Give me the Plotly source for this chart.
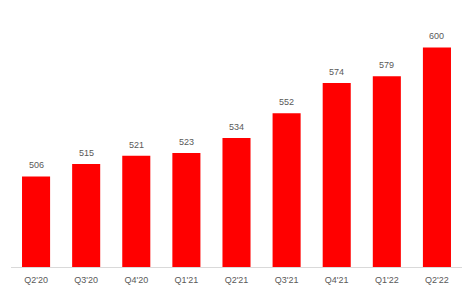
import plotly.graph_objects as go

quarters = ["Q2'20", "Q3'20", "Q4'20", "Q1'21", "Q2'21", "Q3'21", "Q4'21", "Q1'22", "Q2'22"]
values = [506, 515, 521, 523, 534, 552, 574, 579, 600]

fig = go.Figure()
fig.add_trace(go.Bar(
    x=quarters, y=values, marker_color="#FF0000", marker_line_width=0,
    textposition="none", hoverinfo="skip",
))
for q, v in zip(quarters, values):
    fig.add_annotation(x=q, y=v, text=str(v), showarrow=False, yshift=11,
                       font=dict(size=9, color="#595959", family="Liberation Sans"))

fig.update_layout(
    width=468, height=290,
    margin=dict(l=11, r=6, t=20, b=23),
    plot_bgcolor="white", paper_bgcolor="white",
    bargap=0.44, showlegend=False,
    font=dict(family="Liberation Sans", size=9, color="#595959"),
    xaxis=dict(showline=True, linecolor="#D9D9D9", linewidth=1,
               ticks="outside", ticklen=4, tickcolor="rgba(0,0,0,0)",
               showgrid=False, tickfont=dict(size=9, color="#595959")),
    yaxis=dict(range=[440, 620], visible=False, showgrid=False, zeroline=False),
)
fig.write_html("out.html")
